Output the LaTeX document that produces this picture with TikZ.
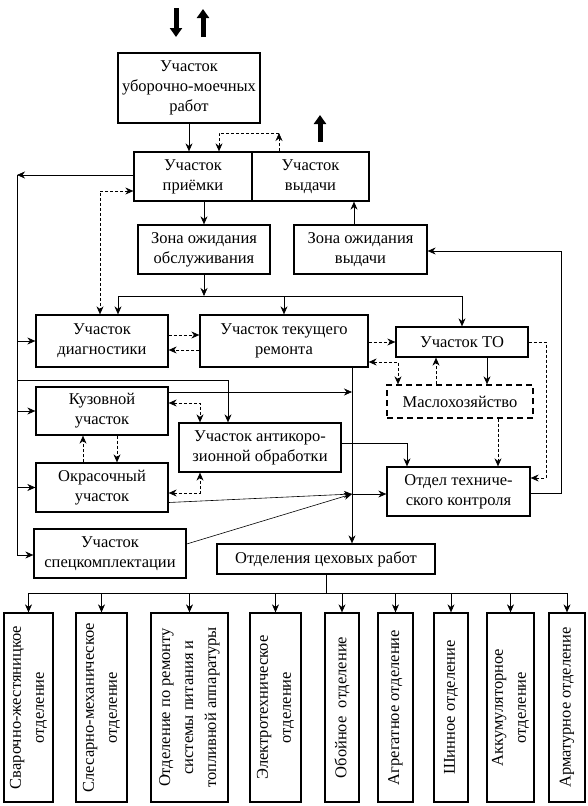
\documentclass[tikz,border=0pt]{standalone}
\usepackage{fontspec}
\setmainfont{Liberation Serif}
\usetikzlibrary{arrows.meta, positioning}
\tikzset{
  box/.style={draw, line width=1.3pt, align=center, inner sep=2pt,
              font=\fontsize{16.5}{20}\selectfont},
  dbox/.style={box, dashed, dash pattern=on 6pt off 4pt},
  vbox/.style={box, rotate=90, minimum width=189pt,
               font=\fontsize{16.5}{23}\selectfont},
  arr/.style={-{Stealth[length=8pt,width=7pt]}, line width=0.6pt},
  line/.style={line width=0.6pt},
  darr/.style={arr, dash pattern=on 3pt off 2pt},
  ddarr/.style={{Stealth[length=8pt,width=7pt]}-{Stealth[length=8pt,width=7pt]},
                line width=0.6pt, dash pattern=on 3pt off 2pt},
  bigarr/.style={line width=5pt, -{Triangle[length=9pt,width=12pt]}},
}
\begin{document}
\begin{tikzpicture}[x=1pt, y=-1pt]
  \useasboundingbox (0,0) rectangle (587,806);

  % входящие / выходящие потоки
  \coordinate (in1) at (176,8);   \coordinate (in2) at (176,37);
  \coordinate (out1) at (203,37); \coordinate (out2) at (203,9);
  \coordinate (vy1) at (320,142); \coordinate (vy2) at (320,115);
  \draw[bigarr] (in1) -- (in2);
  \draw[bigarr] (out1) -- (out2);
  \draw[bigarr] (vy1) -- (vy2);

  \node[box, minimum width=142pt, minimum height=70pt] (moech) at (189,88) {Участок\\уборочно-моечных\\работ};
  \node[box, minimum width=118pt, minimum height=49pt] (priem) at (193,176.5) {Участок\\приёмки};
  \node[box, minimum width=117pt, minimum height=49pt] (vydacha) at (310.5,176.5) {Участок\\выдачи};
  \node[box, minimum width=132pt, minimum height=49pt] (zonaobs) at (204,249.5) {Зона ожидания\\обслуживания};
  \node[box, minimum width=133pt, minimum height=49pt] (zonavyd) at (360.5,249.5) {Зона ожидания\\выдачи};
  \node[box, minimum width=132pt, minimum height=52pt] (diag) at (102,341) {Участок\\диагностики};
  \node[box, minimum width=168pt, minimum height=52pt] (remont) at (284,341) {Участок текущего\\ремонта};
  \node[box, minimum width=132pt, minimum height=30pt] (to) at (462,342) {Участок ТО};
  \node[dbox, minimum width=146pt, minimum height=33pt] (maslo) at (460,401.5) {Маслохозяйство};
  \node[box, minimum width=132pt, minimum height=48pt] (kuzov) at (102,411) {Кузовной\\участок};
  \node[box, minimum width=162pt, minimum height=49pt] (antikor) at (260,447.5) {Участок антикоро-\\зионной обработки};
  \node[box, minimum width=132pt, minimum height=49pt] (okras) at (102,487.5) {Окрасочный\\участок};
  \node[box, minimum width=143pt, minimum height=49pt] (otk) at (458.5,491.5) {Отдел техниче-\\ского контроля};
  \node[box, minimum width=152pt, minimum height=49pt] (spec) at (110,553.5) {Участок\\спецкомплектации};
  \node[box, minimum width=218pt, minimum height=30pt] (cex) at (326,559) {Отделения цеховых работ};

  % отделения
  \node[vbox, minimum height=49pt] (s1) at (28.5,707.5) {Сварочно-жестяницкое\\отделение};
  \node[vbox, minimum height=51pt] (s2) at (101.5,707.5) {Слесарно-механическое\\отделение};
  \node[vbox, minimum height=77pt] (s3) at (189.5,707.5) {Отделение по ремонту\\системы питания и\\топливной аппаратуры};
  \node[vbox, minimum height=51pt] (s4) at (275.5,707.5) {Электротехническое\\отделение};
  \node[vbox, minimum height=34pt] (s5) at (342,707.5) {Обойное\ \ отделение};
  \node[vbox, minimum height=35pt] (s6) at (395.5,707.5) {Агрегатное отделение};
  \node[vbox, minimum height=34pt] (s7) at (451,707.5) {Шинное отделение};
  \node[vbox, minimum height=47pt] (s8) at (510.5,707.5) {Аккумуляторное\\отделение};
  \node[vbox, minimum height=36pt] (s9) at (567,707.5) {Арматурное отделение};

  % вспомогательные точки
  \coordinate (pv) at (279,133);
  \coordinate (pp) at (219,133);
  \coordinate (tl) at (17,175);
  \coordinate (tb) at (17,555);
  \coordinate (tk) at (228,380);
  \coordinate (pd) at (100,191);
  \coordinate (bz) at (204,296);
  \coordinate (bl) at (118,296);
  \coordinate (br) at (462,296);
  \coordinate (rm) at (398,362);
  \coordinate (mt) at (436,360);
  \coordinate (tm) at (487,360);
  \coordinate (tr1) at (546,342);
  \coordinate (tr2) at (546,478);
  \coordinate (mo) at (498,440);
  \coordinate (or1) at (561,493);
  \coordinate (or2) at (561,251);
  \coordinate (zv) at (354,210);
  \coordinate (ka) at (200,403);
  \coordinate (oa) at (200,493);
  \coordinate (ko1) at (83,450);
  \coordinate (ko2) at (117,450);
  \coordinate (vt) at (352,392);
  \coordinate (ao) at (407,443);
  \coordinate (jn) at (352,494);
  \coordinate (bus) at (326,593);

  \draw[arr] (moech.south) -- (moech.south |- priem.north);
  \draw[darr] (vydacha.north -| pv) -- (pv);
  \draw[darr] (pv) -- (pp) -- (priem.north -| pp);

  \draw[arr] (priem.west |- tl) -- (tl);
  \draw[line] (tl) -- (tb);
  \draw[arr] (tl |- diag) -- (diag.west);
  \draw[arr] (tl |- kuzov) -- (kuzov.west);
  \draw[arr] (tl |- okras) -- (okras.west);
  \draw[arr] (tb) -- (spec.west |- tb);
  \draw[arr] (tl |- tk) -- (tk) -- (antikor.north -| tk);
  \draw[ddarr] (priem.west |- pd) -- (pd) -- (diag.north -| pd);

  \draw[arr] (priem.south -| zonaobs) -- (zonaobs.north);
  \draw[arr] (zonaobs.south) -- (bz);
  \draw[line] (bl) -- (br);
  \draw[arr] (bl) -- (diag.north -| bl);
  \draw[arr] (remont.north |- bz) -- (remont.north);
  \draw[arr] (br) -- (to.north -| br);

  \draw[darr] ([yshift=6pt]diag.east) -- ([yshift=6pt]diag.east -| remont.west);
  \draw[darr] ([yshift=-9pt]remont.west) -- ([yshift=-9pt]remont.west -| diag.east);
  \draw[darr] (remont.east |- to) -- (to.west);
  \draw[ddarr] (remont.east |- rm) -- (rm) -- (maslo.north -| rm);
  \draw[darr] (maslo.north -| mt) -- (to.south -| mt);
  \draw[arr] (to.south -| tm) -- (maslo.north -| tm);
  \draw[darr] (to.east) -- (to.east -| tr1) -- (tr2) -- (otk.east |- tr2);
  \draw[darr] (maslo.south -| mo) -- (otk.north -| mo);
  \draw[arr] (otk.east |- or1) -- (or1) -- (or2) -- (zonavyd.east |- or2);
  \draw[arr] (zonavyd.north -| zv) -- (vydacha.south -| zv);

  \draw[ddarr] (kuzov.east |- ka) -- (ka) -- (antikor.north -| ka);
  \draw[ddarr] (okras.east |- oa) -- (oa) -- (antikor.south -| oa);
  \draw[darr] (okras.north -| ko1) -- (kuzov.south -| ko1);
  \draw[darr] (kuzov.south -| ko2) -- (okras.north -| ko2);

  \draw[arr] (remont.south -| vt) -- (cex.north -| vt);
  \draw[arr] (kuzov.east |- vt) -- (vt);
  \draw[arr] (antikor.east |- ao) -- (ao) -- (otk.north -| ao);
  \draw[arr] ([yshift=-15pt]okras.east) -- (jn);
  \draw[arr] ([yshift=9.5pt]spec.east) -- (jn);
  \draw[arr] (jn) -- (otk.west |- jn);

  \draw[line] (cex.south -| bus) -- (bus);
  \draw[line] (bus -| s1.east) -- (bus -| s9.east);
  \draw[arr] (bus -| s1.east) -- (s1.east);
  \draw[arr] (bus -| s2.east) -- (s2.east);
  \draw[arr] (bus -| s3.east) -- (s3.east);
  \draw[arr] (bus -| s4.east) -- (s4.east);
  \draw[arr] (bus -| s5.east) -- (s5.east);
  \draw[arr] (bus -| s6.east) -- (s6.east);
  \draw[arr] (bus -| s7.east) -- (s7.east);
  \draw[arr] (bus -| s8.east) -- (s8.east);
  \draw[arr] (bus -| s9.east) -- (s9.east);
\end{tikzpicture}
\end{document}
